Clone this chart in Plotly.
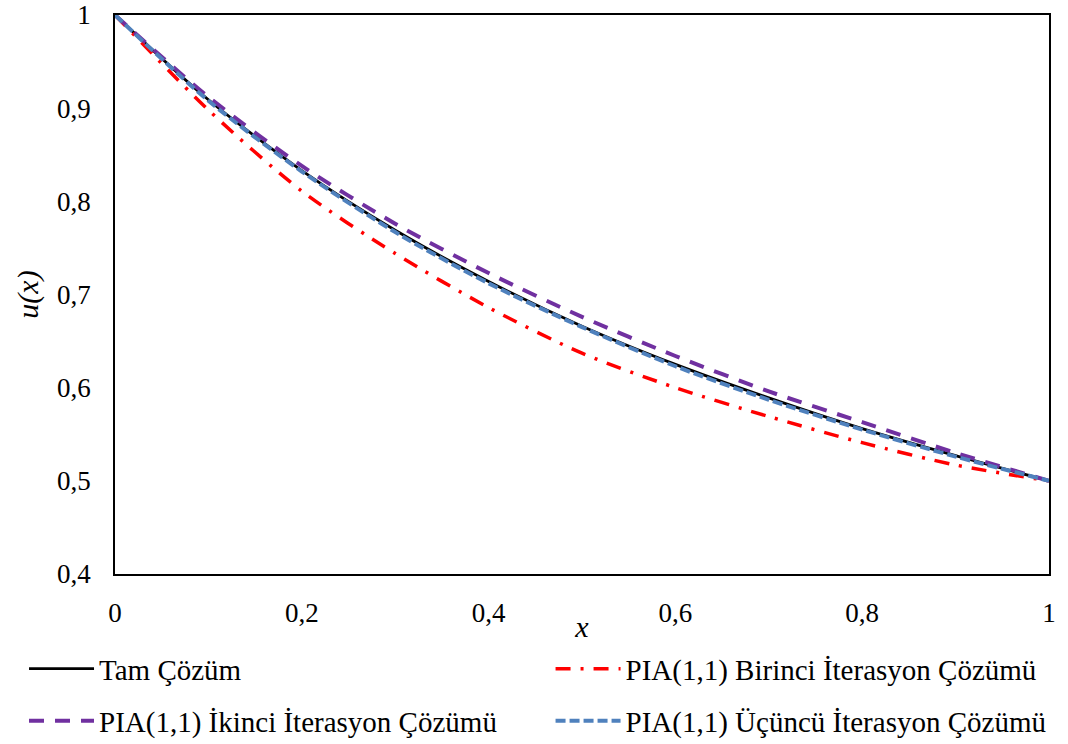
import plotly.graph_objects as go

# Sample points along x and the four solution curves
x_vals = [0.0, 0.1, 0.2, 0.3, 0.4, 0.5, 0.6, 0.7, 0.8, 0.9, 1.0]
tam_cozum = [1.0, 0.909, 0.833, 0.769, 0.714, 0.666, 0.625, 0.589, 0.556, 0.527, 0.5]
birinci_iter = [1.0, 0.898, 0.811, 0.744, 0.686, 0.637, 0.600, 0.569, 0.541, 0.517, 0.5]
ikinci_iter = [1.0, 0.912, 0.838, 0.776, 0.723, 0.676, 0.634, 0.596, 0.563, 0.530, 0.5]
ucuncu_iter = [1.0, 0.908, 0.832, 0.767, 0.712, 0.665, 0.623, 0.587, 0.555, 0.526, 0.5]

x_ticks = [0, 0.2, 0.4, 0.6, 0.8, 1]
x_tick_text = ["0", "0,2", "0,4", "0,6", "0,8", "1"]
y_ticks = [0.4, 0.5, 0.6, 0.7, 0.8, 0.9, 1]
y_tick_text = ["0,4", "0,5", "0,6", "0,7", "0,8", "0,9", "1"]

names = [
    "Tam Çözüm",
    "PIA(1,1) Birinci İterasyon Çözümü",
    "PIA(1,1) İkinci İterasyon Çözümü",
    "PIA(1,1) Üçüncü İterasyon Çözümü",
]

serif = "Liberation Serif"

fig = go.Figure()
fig.add_trace(go.Scatter(
    x=x_vals, y=tam_cozum, name=names[0], mode="lines", legend="legend",
    line=dict(color="#000000", width=2.8, shape="spline", smoothing=0.8),
))
fig.add_trace(go.Scatter(
    x=x_vals, y=birinci_iter, name=names[1], mode="lines", legend="legend2",
    line=dict(color="#ff0000", width=3.5, dash="15px,10px,3px,10px",
              shape="spline", smoothing=0.8),
))
fig.add_trace(go.Scatter(
    x=x_vals, y=ikinci_iter, name=names[2], mode="lines", legend="legend3",
    line=dict(color="#7030a0", width=4, dash="15px,11px",
              shape="spline", smoothing=0.8),
))
fig.add_trace(go.Scatter(
    x=x_vals, y=ucuncu_iter, name=names[3], mode="lines", legend="legend4",
    line=dict(color="#4f81bd", width=4, dash="10px,4px",
              shape="spline", smoothing=0.8),
))

legend_common = dict(
    orientation="h", xanchor="left", yanchor="middle",
    xref="container", yref="container", itemwidth=65,
    font=dict(family=serif, size=29, color="#000000"),
    bgcolor="rgba(0,0,0,0)", itemclick=False, itemdoubleclick=False,
)

row1, row2 = 0.101, 0.031
col1, col2 = 0.0225, 0.5155

fig.update_layout(
    width=1068, height=744,
    margin=dict(l=115, r=19, t=15, b=170, autoexpand=False),
    paper_bgcolor="#ffffff", plot_bgcolor="#ffffff",
    showlegend=True,
    legend=dict(x=col1, y=row1, **legend_common),
    legend2=dict(x=col2, y=row1, **legend_common),
    legend3=dict(x=col1, y=row2, **legend_common),
    legend4=dict(x=col2, y=row2, **legend_common),
    xaxis=dict(
        range=[0, 1], tickvals=x_ticks, ticktext=x_tick_text,
        showgrid=False, zeroline=False, showline=True, mirror=True,
        linecolor="#000000", linewidth=1.5, ticks="",
        ticklabelstandoff=14,
        tickfont=dict(family=serif, size=27, color="#000000"),
        title=dict(text="<i>x</i>", standoff=3,
                   font=dict(family=serif, size=30, color="#000000")),
    ),
    yaxis=dict(
        range=[0.4, 1], tickvals=y_ticks, ticktext=y_tick_text,
        showgrid=False, zeroline=False, showline=True, mirror=True,
        linecolor="#000000", linewidth=1.5, ticks="",
        ticklabelstandoff=17,
        tickfont=dict(family=serif, size=27, color="#000000"),
        title=dict(text="<i>u(x)</i>", standoff=10,
                   font=dict(family=serif, size=30, color="#000000")),
    ),
)

fig.write_html("out.html")
